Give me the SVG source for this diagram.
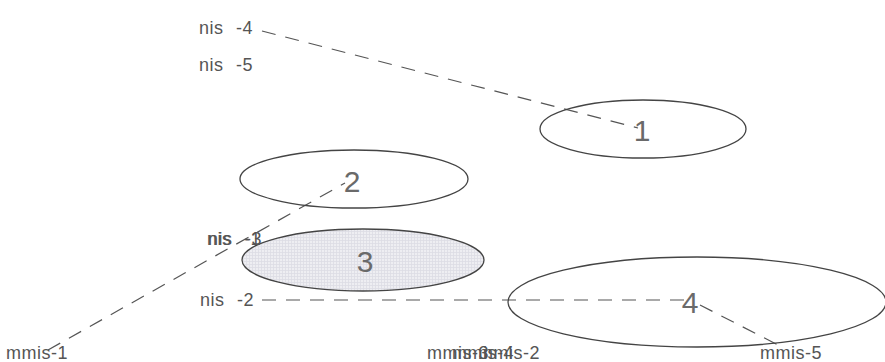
<svg xmlns="http://www.w3.org/2000/svg" width="885" height="362" viewBox="0 0 885 362">
  <defs>
    <pattern id="dots" width="3" height="3" patternUnits="userSpaceOnUse">
      <rect width="3" height="3" fill="#eeeef2"/>
      <path d="M0 0.5H3M0.5 0V3" stroke="#dcdce4" stroke-width="0.8"/>
    </pattern>
    <style>
      .lbl { font-family: "Liberation Sans", Arial, sans-serif; font-size: 18px; fill: #555; letter-spacing: 0.5px; }
      .num { font-family: "Liberation Sans", Arial, sans-serif; font-size: 30px; fill: #6a6a6a; text-anchor: middle; }
      .node { fill: none; stroke: #444; stroke-width: 1.3; }
      .conn { fill: none; stroke: #555; stroke-width: 1.2; stroke-dasharray: 14 10; }
    </style>
  </defs>
  <rect width="885" height="362" fill="#fff"/>

  <g id="connectors">
    <line class="conn" x1="262" y1="31" x2="638" y2="128"/>
    <line class="conn" x1="48" y1="350" x2="345" y2="183"/>
    <line class="conn" x1="262" y1="300" x2="690" y2="300"/>
    <line class="conn" x1="700" y1="305" x2="780" y2="346"/>
  </g>

  <g id="node-1">
    <ellipse class="node" cx="643" cy="129" rx="103" ry="29"/>
    <text class="num" x="642" y="141">1</text>
  </g>
  <g id="node-2">
    <ellipse class="node" cx="354" cy="179" rx="114" ry="29"/>
    <text class="num" x="352" y="192">2</text>
  </g>
  <g id="node-3">
    <ellipse cx="363" cy="260" rx="121" ry="31" fill="url(#dots)" stroke="#444" stroke-width="1.3"/>
    <text class="num" x="365" y="272">3</text>
  </g>
  <g id="node-4">
    <ellipse class="node" cx="697" cy="302" rx="189" ry="45"/>
    <text class="num" x="690" y="313">4</text>
  </g>

  <g id="labels">
    <text class="lbl" x="199" y="34">nis<tspan x="236">-4</tspan></text>
    <text class="lbl" x="199" y="71">nis<tspan x="236">-5</tspan></text>
    <text class="lbl" x="207" y="245">nis<tspan x="244">-1</tspan></text>
    <text class="lbl" x="208" y="245">nis<tspan x="245">-3</tspan></text>
    <text class="lbl" x="200" y="306">nis<tspan x="237">-2</tspan></text>
    <text class="lbl" x="6" y="359">mmis-1</text>
    <text class="lbl" x="427" y="359">mmis-3</text>
    <text class="lbl" x="452" y="359">mmis-4</text>
    <text class="lbl" x="478" y="359">mmis-2</text>
    <text class="lbl" x="760" y="359">mmis-5</text>
  </g>
</svg>
